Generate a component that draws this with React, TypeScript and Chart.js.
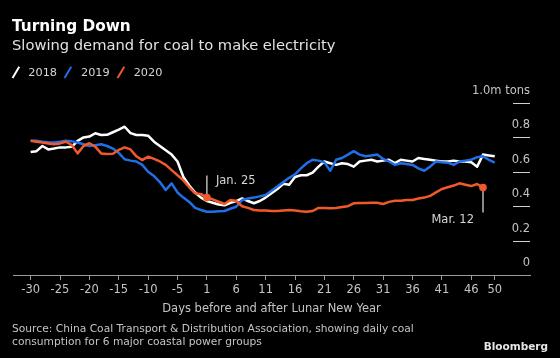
import React, { useEffect, useRef } from 'react';
import { Chart, registerables } from 'chart.js';

Chart.register(...registerables);

const DAYS = [
  -30, -29, -28, -27, -26, -25, -24, -23, -22, -21,
  -20, -19, -18, -17, -16, -15, -14, -13, -12, -11,
  -10, -9, -8, -7, -6, -5, -4, -3, -2, -1,
  1, 2, 3, 4, 5, 6, 7, 8, 9, 10,
  11, 12, 13, 14, 15, 16, 17, 18, 19, 20,
  21, 22, 23, 24, 25, 26, 27, 28, 29, 30,
  31, 32, 33, 34, 35, 36, 37, 38, 39, 40,
  41, 42, 43, 44, 45, 46, 47, 48, 49, 50,
];
const TICK_DAYS = [-30, -25, -20, -15, -10, -5, 1, 6, 11, 16, 21, 26, 31, 36, 41, 46, 50];
const Y_TICKS = [0, 0.2, 0.4, 0.6, 0.8, 1.0];

const SERIES_2018 = [
  0.715, 0.72, 0.75, 0.73, 0.735, 0.742, 0.742, 0.745, 0.78, 0.8,
  0.805, 0.824, 0.814, 0.815, 0.83, 0.845, 0.862, 0.825, 0.814, 0.814,
  0.81, 0.775, 0.75, 0.725, 0.7, 0.66, 0.57, 0.52, 0.48, 0.45,
  0.43, 0.42, 0.41, 0.405, 0.42, 0.43, 0.445, 0.43, 0.417, 0.43,
  0.45, 0.475, 0.5, 0.53, 0.525, 0.57, 0.58, 0.58, 0.595, 0.63,
  0.66, 0.65, 0.64, 0.65, 0.645, 0.63, 0.66, 0.665, 0.67, 0.66,
  0.665, 0.67, 0.65, 0.67, 0.665, 0.66, 0.68, 0.675, 0.67, 0.665,
  0.66, 0.66, 0.665, 0.66, 0.66, 0.655, 0.63, 0.7, 0.695, 0.69,
];
const SERIES_2019 = [
  0.78, 0.78, 0.775, 0.772, 0.77, 0.775, 0.78, 0.777, 0.77, 0.76,
  0.75, 0.755, 0.76, 0.75, 0.735, 0.71, 0.673, 0.665, 0.66, 0.64,
  0.6, 0.575, 0.54, 0.494, 0.533, 0.48, 0.45, 0.425, 0.39, 0.378,
  0.368, 0.368, 0.37, 0.372, 0.385, 0.397, 0.436, 0.445, 0.45, 0.457,
  0.465, 0.49, 0.515, 0.54, 0.565, 0.585, 0.62, 0.65, 0.67, 0.665,
  0.655, 0.606, 0.67, 0.68, 0.7, 0.72, 0.7, 0.69, 0.695, 0.7,
  0.675, 0.66, 0.64, 0.65, 0.645, 0.64, 0.62, 0.606, 0.63, 0.66,
  0.655, 0.653, 0.64, 0.66, 0.665, 0.67, 0.685, 0.69, 0.67, 0.653,
];
const SERIES_2020 = [
  0.78, 0.775, 0.77, 0.765, 0.76, 0.765, 0.775, 0.756, 0.707, 0.75,
  0.766, 0.746, 0.707, 0.703, 0.705, 0.727, 0.742, 0.73, 0.69, 0.668,
  0.688, 0.675, 0.66, 0.64, 0.61, 0.58, 0.55, 0.51, 0.475, 0.47,
  0.45, 0.44, 0.426, 0.413, 0.436, 0.43, 0.4, 0.39, 0.378, 0.375,
  0.375, 0.372, 0.372, 0.375, 0.378, 0.375, 0.37, 0.368, 0.372, 0.39,
  0.39, 0.388, 0.39, 0.395, 0.4, 0.417, 0.418, 0.418, 0.42, 0.42,
  0.413, 0.425, 0.432, 0.432, 0.436, 0.436, 0.445, 0.45, 0.46, 0.48,
  0.5, 0.51, 0.52, 0.533, 0.525, 0.517, 0.529, 0.508,
];

const SERIES_NAMES = ['2018', '2019', '2020'];
const SERIES_COLORS = ['#ffffff', '#1f6fe6', '#f05a2a'];
const MARKER_DAYS = [1, 48];
const MARKER_LABELS = ['Jan. 25', 'Mar. 12'];

const FONT = '"DejaVu Sans", sans-serif';
const TEXT_GREY = '#c4c4c4';
const AXIS_GREY = '#9c9c9c';

const markerIndices = MARKER_DAYS.map((d) => DAYS.indexOf(d));

const toPoints = (arr: number[]) => arr.map((v, i) => ({ x: i, y: v }));

const annotationPlugin = {
  id: 'annotations',
  afterDatasetsDraw(chart: any) {
    const { ctx, scales } = chart;
    const xs = scales.x;
    const ys = scales.y;
    ctx.save();
    // right-side short tick dashes for y values
    ctx.strokeStyle = '#cfcfcf';
    ctx.lineWidth = 1;
    Y_TICKS.forEach((v) => {
      if (v === 0) return;
      const y = Math.round(ys.getPixelForValue(v)) + 0.5;
      ctx.beginPath();
      ctx.moveTo(chart.chartArea.right - 17, y);
      ctx.lineTo(chart.chartArea.right, y);
      ctx.stroke();
    });
    // markers
    markerIndices.forEach((idx, k) => {
      const x = xs.getPixelForValue(idx);
      const y = ys.getPixelForValue(SERIES_2020[idx]);
      ctx.strokeStyle = '#b8b8b8';
      ctx.lineWidth = 1.5;
      ctx.font = `11.5px ${FONT}`;
      ctx.fillStyle = '#d6d6d6';
      ctx.textBaseline = 'alphabetic';
      ctx.beginPath();
      if (k === 0) {
        ctx.moveTo(x, y);
        ctx.lineTo(x, y - 22);
        ctx.stroke();
        ctx.textAlign = 'left';
        ctx.fillText(MARKER_LABELS[k], x + 9, y - 14);
      } else {
        ctx.moveTo(x, y);
        ctx.lineTo(x, y + 25);
        ctx.stroke();
        ctx.textAlign = 'right';
        ctx.fillText(MARKER_LABELS[k], x - 9, y + 35);
      }
      ctx.beginPath();
      ctx.fillStyle = SERIES_COLORS[2];
      ctx.arc(x, y, 3.8, 0, Math.PI * 2);
      ctx.fill();
    });
    ctx.restore();
  },
};

export default function App() {
  const canvasRef = useRef<HTMLCanvasElement | null>(null);

  useEffect(() => {
    if (!canvasRef.current) return;
    const seriesData = [SERIES_2018, SERIES_2019, SERIES_2020];
    const chart = new Chart(canvasRef.current, {
      type: 'line',
      data: {
        datasets: seriesData.map((s, i) => ({
          label: SERIES_NAMES[i],
          data: toPoints(s),
          borderColor: SERIES_COLORS[i],
          backgroundColor: SERIES_COLORS[i],
          borderWidth: 2.5,
          pointRadius: 0,
          tension: 0,
          order: 2 - i,
          borderJoinStyle: 'round' as const,
        })),
      },
      options: {
        animation: false,
        responsive: false,
        devicePixelRatio: 1,
        layout: { padding: { left: 13, right: 30, top: 103, bottom: 40 } },
        plugins: {
          legend: { display: false },
          tooltip: { enabled: false },
          title: { display: false },
        },
        scales: {
          x: {
            type: 'linear',
            min: -3,
            max: 85,
            afterBuildTicks: (scale: any) => {
              scale.ticks = TICK_DAYS.map((d) => ({ value: DAYS.indexOf(d) }));
            },
            afterFit: (scale: any) => {
              scale.height = 43;
            },
            ticks: {
              autoSkip: false,
              maxRotation: 0,
              minRotation: 0,
              padding: 3,
              color: TEXT_GREY,
              font: { family: FONT, size: 11.5 },
              callback: (v: any) => String(DAYS[v]),
            },
            grid: {
              drawOnChartArea: false,
              drawTicks: true,
              tickLength: 5,
              color: AXIS_GREY,
            },
            border: { display: true, color: AXIS_GREY, width: 1 },
            title: {
              display: true,
              text: 'Days before and after Lunar New Year',
              color: TEXT_GREY,
              font: { family: FONT, size: 11.5 },
              padding: { top: 0, bottom: 2 },
            },
          },
          y: {
            type: 'linear',
            position: 'right',
            min: 0,
            max: 1,
            afterBuildTicks: (scale: any) => {
              scale.ticks = Y_TICKS.map((v) => ({ value: v }));
            },
            ticks: {
              mirror: true,
              padding: 0,
              labelOffset: -12,
              color: TEXT_GREY,
              font: { family: FONT, size: 11.5 },
              callback: (v: any) => (v === 1 ? '1.0m tons' : v === 0 ? '0' : Number(v).toFixed(1)),
            },
            grid: { display: false, drawTicks: false },
            border: { display: false },
          },
        },
      },
      plugins: [annotationPlugin],
    });
    return () => chart.destroy();
  }, []);

  const legendLeft = 12.7;
  const legendPitch = 52.7;

  return (
    <div
      style={{
        position: 'fixed',
        left: 0,
        top: 0,
        width: 560,
        height: 358,
        background: '#000',
        overflow: 'hidden',
        fontFamily: FONT,
      }}
    >
      <canvas ref={canvasRef} width={560} height={358} style={{ position: 'absolute', left: 0, top: 0 }} />
      <div
        style={{
          position: 'absolute',
          left: 12,
          top: 19,
          fontSize: 15.3,
          lineHeight: 1,
          fontWeight: 'bold',
          color: '#ffffff',
          whiteSpace: 'nowrap',
        }}
      >
        Turning Down
      </div>
      <div
        style={{
          position: 'absolute',
          left: 12,
          top: 37.6,
          fontSize: 14.7,
          lineHeight: 1,
          color: '#e2e2e2',
          whiteSpace: 'nowrap',
        }}
      >
        Slowing demand for coal to make electricity
      </div>
      {SERIES_NAMES.map((name, i) => (
        <div key={name}>
          <div
            style={{
              position: 'absolute',
              left: legendLeft + i * legendPitch + 2,
              top: 65.5,
              width: 2.4,
              height: 12.5,
              background: SERIES_COLORS[i],
              transform: 'rotate(31deg)',
            }}
          />
          <div
            style={{
              position: 'absolute',
              left: legendLeft + i * legendPitch + 15.6,
              top: 66.6,
              fontSize: 11.3,
              lineHeight: 1,
              color: '#d6d6d6',
              whiteSpace: 'nowrap',
            }}
          >
            {name}
          </div>
        </div>
      ))}
      <div
        style={{
          position: 'absolute',
          left: 12,
          top: 322,
          fontSize: 10.7,
          lineHeight: '13px',
          color: TEXT_GREY,
          whiteSpace: 'nowrap',
        }}
      >
        Source: China Coal Transport &amp; Distribution Association, showing daily coal
        <br />
        consumption for 6 major coastal power groups
      </div>
      <div
        style={{
          position: 'absolute',
          right: 12,
          top: 341,
          fontSize: 10.5,
          lineHeight: 1,
          fontWeight: 'bold',
          color: '#e6e6e6',
          whiteSpace: 'nowrap',
        }}
      >
        Bloomberg
      </div>
    </div>
  );
}
